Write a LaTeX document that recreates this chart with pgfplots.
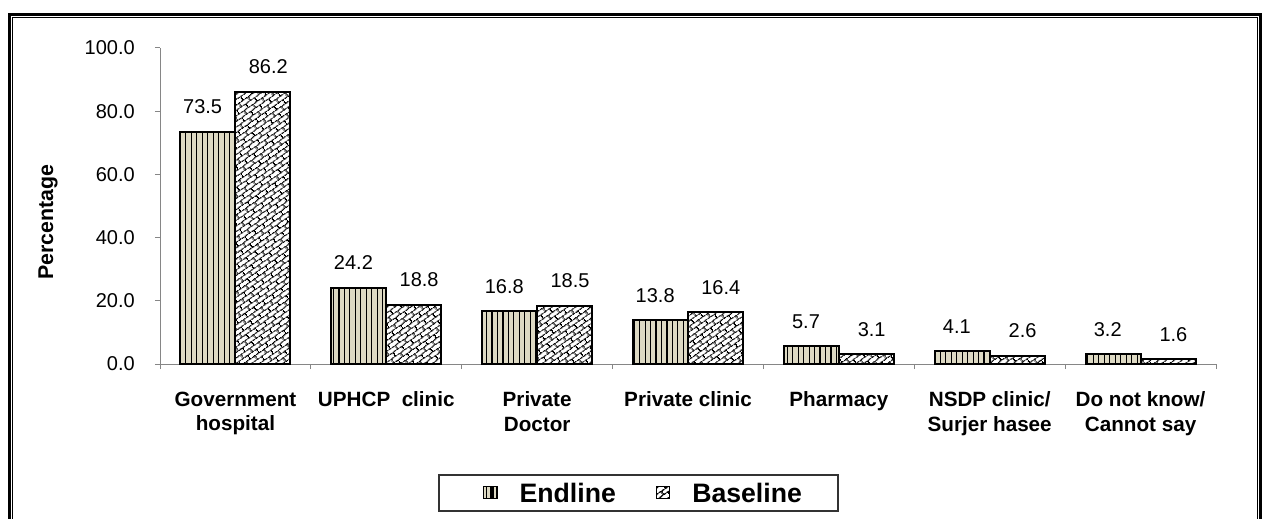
\documentclass[border=0pt]{standalone}
\usepackage{fontspec}
\setmainfont{Liberation Sans}
\usepackage{pgfplots}
\pgfplotsset{compat=1.18}
\usetikzlibrary{patterns.meta}
\definecolor{tanc}{RGB}{221,217,195}
\definecolor{axgray}{RGB}{134,134,134}

\tikzdeclarepattern{
  name=diagbrick,
  type=uncolored,
  bounding box={(0pt,0pt) and (8pt,7pt)},
  tile size={(8pt,7pt)},
  tile transformation={rotate=35},
  code={
    \draw[line width=0.8pt] (-1pt,1.75pt) -- (9pt,1.75pt);
    \draw[line width=0.8pt] (-1pt,5.25pt) -- (9pt,5.25pt);
    \draw[line width=0.8pt] (2pt,1.75pt) -- (2pt,5.25pt);
    \draw[line width=0.8pt] (6pt,5.25pt) -- (6pt,8pt);
    \draw[line width=0.8pt] (6pt,-1pt) -- (6pt,1.75pt);
  }
}

\begin{document}
\begin{tikzpicture}
\useasboundingbox (0,0) rectangle (947.25pt,388.5pt);
\draw[line width=2.25pt] (6.75pt,-5pt) -- (6.75pt,377.85pt) -- (945.6pt,377.85pt) -- (945.6pt,-5pt);
\draw[line width=0.9pt] (9.5pt,-5pt) -- (9.5pt,375.5pt) -- (943pt,375.5pt) -- (943pt,-5pt);
\begin{axis}[
  at={(120pt,115.5pt)}, anchor=south west,
  scale only axis, width=792pt, height=237pt,
  xmin=-0.5, xmax=6.5, ymin=0, ymax=100,
  axis x line*=bottom, axis y line*=left,
  axis line style={axgray, line width=0.75pt},
  ybar=0pt, bar width=41.25pt,
  ytick={0,20,...,100},
  xtick={0,...,6},
  xticklabels={Government\\hospital, UPHCP~~clinic, Private\\Doctor, Private clinic, Pharmacy, NSDP clinic/\\Surjer hasee, Do not know/\\Cannot say},
  minor xtick={-0.5,0.5,...,6.5},
  tick align=outside,
  major tick length=3.75pt, minor tick length=3.75pt,
  tick style={axgray, line width=0.75pt},
  major x tick style={draw=none},
  /pgf/number format/assume math mode=true,
  yticklabel style={font=\fontsize{15}{17}\selectfont, inner sep=0pt, anchor=east, xshift=-15pt,
    /pgf/number format/.cd, fixed, fixed zerofill, precision=1},
  xticklabel style={font=\fontsize{15.5}{18.5}\selectfont\bfseries, align=center, inner sep=0pt, anchor=north, yshift=-16.8pt},
  ylabel={Percentage},
  ylabel style={font=\fontsize{16}{19}\selectfont\bfseries, at={(axis description cs:-0.106,0.449)}, anchor=center},
  nodes near coords={\pgfmathprintnumber[fixed,fixed zerofill,precision=1]{\pgfplotspointmeta}},
  nodes near coords style={font=\fontsize{15}{17}\selectfont, anchor=south, inner sep=0pt, yshift=12.5pt},
  legend columns=2,
  legend style={at={(axis description cs:0.3059,-0.410)}, anchor=west, draw=none, fill=none,
    inner xsep=0pt, inner ysep=0pt, font=\fontsize{20}{23}\selectfont\bfseries,
    nodes={inner sep=0pt},
    /tikz/every odd column/.style={column sep=16.5pt},
    /tikz/every even column/.style={column sep=30pt}},
]
\addplot[fill=tanc, draw=black, line width=1.5pt,
  postaction={pattern={Lines[angle=90,distance=4.1pt,line width=0.85pt]}},
  every node near coord/.append style={xshift=-4pt},
  legend image code/.code={\draw[fill=tanc, draw=black, line width=0.75pt, postaction={pattern={Lines[angle=90,distance=2.5pt,line width=0.7pt]}}] (0pt,-3.4pt) rectangle (10pt,5.1pt);}]
  coordinates {(0,73.5) (1,24.2) (2,16.8) (3,13.8) (4,5.7) (5,4.1) (6,3.2)};
\addlegendentry{Endline}
\addplot[fill=white, draw=black, line width=1.5pt,
  postaction={pattern=diagbrick},
  every node near coord/.append style={xshift=4pt},
  legend image code/.code={\draw[fill=white, draw=black, line width=0.75pt, postaction={pattern=diagbrick}] (0pt,-3.4pt) rectangle (10pt,5.1pt);}]
  coordinates {(0,86.2) (1,18.8) (2,18.5) (3,16.4) (4,3.1) (5,2.6) (6,1.6)};
\addlegendentry{Baseline}
\end{axis}
\draw[line width=0.9pt, black!80] (329.25pt,5.25pt) rectangle (628.5pt,32.25pt);
\end{tikzpicture}
\end{document}
